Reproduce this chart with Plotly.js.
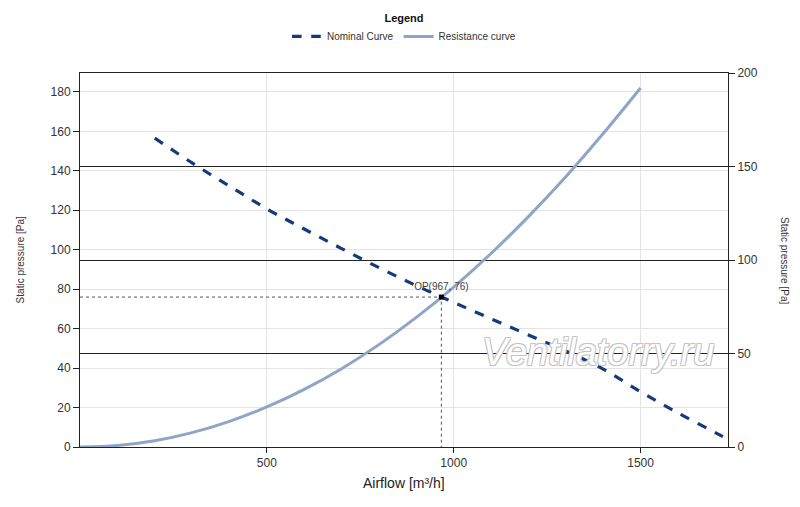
<!DOCTYPE html>
<html>
<head>
<meta charset="utf-8">
<script src="https://cdn.plot.ly/plotly-3.0.1.min.js"></script>
<style>
  body { margin: 0; background: #fff; }
  #chart { width: 800px; height: 507px; }
</style>
</head>
<body>
<div id="chart"></div>
<script>
// fan curve
var nominalFlow = [200, 300, 400, 500, 600, 700, 800, 900, 1000, 1100, 1200, 1300, 1400, 1500, 1600, 1700, 1730];
var nominalPressure = [156.6, 144, 132.3, 120.7, 110.5, 100.6, 90.9, 81.8, 73.3, 65, 56.8, 48.7, 39.5, 28.0, 17.3, 7.3, 4.3];

// system resistance
var resistFlow = [0, 100, 200, 300, 400, 500, 600, 700, 800, 900, 1000, 1100, 1200, 1300, 1400, 1500];
var resistPressure = [0, 0.8, 3.2, 7.3, 13.0, 20.3, 29.2, 39.7, 51.9, 65.7, 81.1, 98.1, 116.8, 137.0, 158.9, 182];

// operating point
var opFlow = 967;
var opPressure = 76;

var leftTicks = [0, 20, 40, 60, 80, 100, 120, 140, 160, 180];
var rightTicks = [0, 50, 100, 150, 200];
var xTicks = [500, 1000, 1500];

var fontName = "Liberation Sans, Arial, sans-serif";

var traces = [
  {
    x: nominalFlow, y: nominalPressure, name: "Nominal Curve",
    mode: "lines", line: { color: "#143a7c", width: 3.2, dash: "dash", shape: "spline" }
  },
  {
    x: resistFlow, y: resistPressure, name: "Resistance curve",
    mode: "lines", line: { color: "#8ea5c8", width: 3, shape: "spline" }
  },
  {
    // dotted guides to the operating point
    x: [0, opFlow, opFlow], y: [opPressure, opPressure, 0],
    mode: "lines", showlegend: false, hoverinfo: "skip",
    line: { color: "#555", width: 1, dash: "dot" }
  },
  {
    x: [opFlow], y: [opPressure], mode: "markers+text", showlegend: false,
    marker: { color: "#000", size: 5, symbol: "square" },
    text: ["OP(" + opFlow + ", " + opPressure + ")"],
    textposition: "top center",
    textfont: { family: fontName, size: 10, color: "#444" }
  },
  {
    // empty trace so the right axis gets drawn
    x: [], y: [], yaxis: "y2", showlegend: false, mode: "lines"
  }
];

var layout = {
  width: 800, height: 507,
  margin: { l: 80, r: 72, t: 73, b: 60 },
  paper_bgcolor: "#fff", plot_bgcolor: "#fff",
  font: { family: fontName, size: 12, color: "#333" },
  showlegend: true,
  legend: {
    orientation: "h", x: 0.5, xanchor: "center",
    yref: "container", y: 0.985, yanchor: "top",
    title: { text: "<b>Legend</b>", side: "top center", font: { size: 11, color: "#111" } },
    font: { size: 10, color: "#333" },
    itemwidth: 30, tracegroupgap: 0
  },
  xaxis: {
    range: [0, 1734], tickvals: xTicks,
    showgrid: true, gridcolor: "#e3e3e3", gridwidth: 1,
    showline: true, linecolor: "#222", linewidth: 1, mirror: true,
    ticks: "outside", ticklen: 5, tickcolor: "#222",
    zeroline: false, tickfont: { size: 12, color: "#333" }
  },
  yaxis: {
    range: [0, 189.6], tickvals: leftTicks,
    showgrid: true, gridcolor: "#e3e3e3", gridwidth: 1,
    showline: true, linecolor: "#222", linewidth: 1,
    ticks: "outside", ticklen: 6, tickcolor: "#222",
    zeroline: false, tickfont: { size: 12, color: "#333" }
  },
  yaxis2: {
    overlaying: "y", side: "right",
    range: [0, 200], tickvals: rightTicks,
    showgrid: true, gridcolor: "#222", gridwidth: 1,
    showline: true, linecolor: "#222", linewidth: 1,
    ticks: "outside", ticklen: 6, tickcolor: "#222",
    zeroline: false, tickfont: { size: 12, color: "#333" }
  },
  annotations: [
    {
      text: "Airflow [m³/h]", xref: "paper", yref: "paper",
      x: 0.5, y: -0.095, xanchor: "center", yanchor: "middle", showarrow: false,
      font: { size: 14, color: "#222" }
    },
    {
      text: "Static pressure [Pa]", xref: "paper", yref: "paper",
      x: -0.092, y: 0.5, textangle: -90, showarrow: false,
      xanchor: "center", yanchor: "middle",
      font: { size: 10, color: "#333" }
    },
    {
      text: "Static pressure [Pa]", xref: "paper", yref: "paper",
      x: 1.088, y: 0.5, textangle: 90, showarrow: false,
      xanchor: "center", yanchor: "middle",
      font: { size: 10, color: "#333" }
    },
    {
      // watermark
      text: "<i>Ventilatorry.ru</i>", xref: "paper", yref: "paper",
      x: 0.8, y: 0.255, showarrow: false,
      xanchor: "center", yanchor: "middle",
      font: {
        size: 38, color: "#ffffff",
        shadow: "1px 1px 0 #c4c4c4, -1px -1px 0 #c4c4c4, 1px -1px 0 #c4c4c4, -1px 1px 0 #c4c4c4"
      }
    }
  ]
};

Plotly.newPlot("chart", traces, layout, { displayModeBar: false, staticPlot: true });
</script>
</body>
</html>
